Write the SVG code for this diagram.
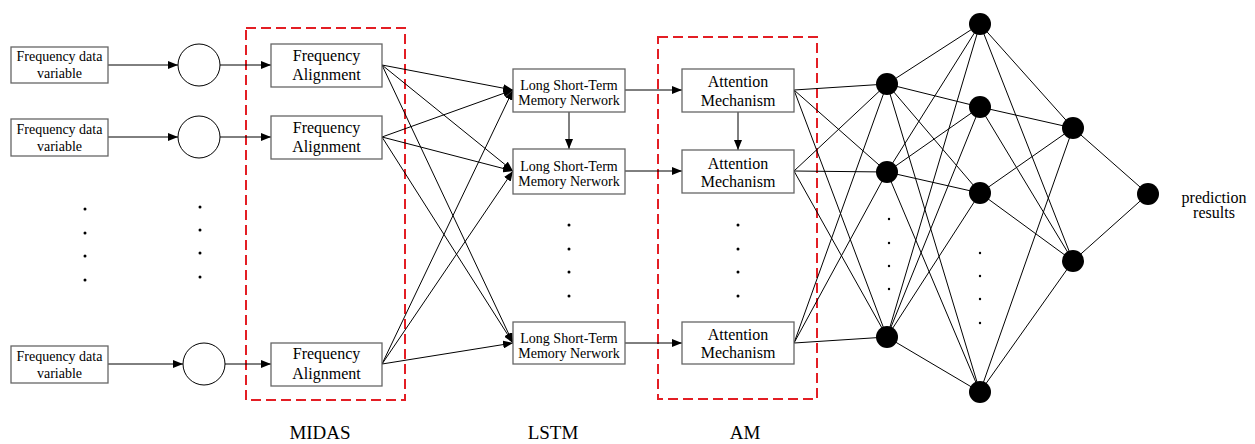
<svg xmlns="http://www.w3.org/2000/svg" width="1255" height="444" viewBox="0 0 1255 444">
<defs>
<marker id="ah" viewBox="0 0 10 8" refX="10" refY="4" markerWidth="10" markerHeight="8" markerUnits="userSpaceOnUse" orient="auto">
<path d="M0,0 L10,4 L0,8 z" fill="#000"/>
</marker>
</defs>
<style>
.box{fill:#fff;stroke:#666;stroke-width:1.3}
.t{font-family:"Liberation Serif","Times New Roman",serif;fill:#000;text-anchor:middle}
.s14{font-size:14px}
.s16{font-size:16px}
.s18{font-size:19px}
.ln{stroke:#000;stroke-width:1;fill:none}
.ar{stroke:#000;stroke-width:1;fill:none;marker-end:url(#ah)}
.red{fill:none;stroke:#e31e24;stroke-width:2;stroke-dasharray:10 5}
.nn{fill:#000}
.dot{fill:#000}
.circ{fill:#fff;stroke:#000;stroke-width:1}
</style>
<rect width="1255" height="444" fill="#fff"/>

<g id="groups">
<rect class="red" x="246" y="28" width="159" height="372"/>
<rect class="red" x="658" y="37" width="159" height="362"/>
</g>

<g id="connectors">
<line class="ar" x1="108" y1="65" x2="178" y2="65"/>
<line class="ar" x1="220" y1="65" x2="271" y2="65"/>
<line class="ar" x1="108" y1="137" x2="178" y2="137"/>
<line class="ar" x1="220" y1="137" x2="271" y2="137"/>
<line class="ar" x1="108" y1="364" x2="183" y2="364"/>
<line class="ar" x1="225" y1="364" x2="271" y2="364"/>

<line class="ar" x1="382" y1="65" x2="513" y2="90"/>
<line class="ar" x1="382" y1="65" x2="513" y2="171"/>
<line class="ar" x1="382" y1="65" x2="513" y2="343"/>
<line class="ar" x1="382" y1="137" x2="513" y2="90"/>
<line class="ar" x1="382" y1="137" x2="513" y2="171"/>
<line class="ar" x1="382" y1="137" x2="513" y2="343"/>
<line class="ar" x1="382" y1="364" x2="513" y2="90"/>
<line class="ar" x1="382" y1="364" x2="513" y2="171"/>
<line class="ar" x1="382" y1="364" x2="513" y2="343"/>

<line class="ar" x1="569" y1="112" x2="569" y2="149"/>
<line class="ar" x1="738" y1="112" x2="738" y2="150"/>

<line class="ar" x1="625" y1="90" x2="682" y2="90"/>
<line class="ar" x1="625" y1="171" x2="682" y2="171"/>
<line class="ar" x1="625" y1="343" x2="682" y2="343"/>

<line class="ln" x1="794" y1="90" x2="887" y2="84"/>
<line class="ln" x1="794" y1="90" x2="887" y2="172"/>
<line class="ln" x1="794" y1="90" x2="887" y2="337"/>
<line class="ln" x1="794" y1="171" x2="887" y2="84"/>
<line class="ln" x1="794" y1="171" x2="887" y2="172"/>
<line class="ln" x1="794" y1="171" x2="887" y2="337"/>
<line class="ln" x1="794" y1="343" x2="887" y2="84"/>
<line class="ln" x1="794" y1="343" x2="887" y2="172"/>
<line class="ln" x1="794" y1="343" x2="887" y2="337"/>

<line class="ln" x1="887" y1="84" x2="980" y2="24"/>
<line class="ln" x1="887" y1="84" x2="980" y2="107"/>
<line class="ln" x1="887" y1="84" x2="980" y2="193"/>
<line class="ln" x1="887" y1="84" x2="980" y2="392"/>
<line class="ln" x1="887" y1="172" x2="980" y2="24"/>
<line class="ln" x1="887" y1="172" x2="980" y2="107"/>
<line class="ln" x1="887" y1="172" x2="980" y2="193"/>
<line class="ln" x1="887" y1="172" x2="980" y2="392"/>
<line class="ln" x1="887" y1="337" x2="980" y2="24"/>
<line class="ln" x1="887" y1="337" x2="980" y2="107"/>
<line class="ln" x1="887" y1="337" x2="980" y2="193"/>
<line class="ln" x1="887" y1="337" x2="980" y2="392"/>

<line class="ln" x1="980" y1="24" x2="1073" y2="128"/>
<line class="ln" x1="980" y1="24" x2="1073" y2="261"/>
<line class="ln" x1="980" y1="107" x2="1073" y2="128"/>
<line class="ln" x1="980" y1="107" x2="1073" y2="261"/>
<line class="ln" x1="980" y1="193" x2="1073" y2="128"/>
<line class="ln" x1="980" y1="193" x2="1073" y2="261"/>
<line class="ln" x1="980" y1="392" x2="1073" y2="128"/>
<line class="ln" x1="980" y1="392" x2="1073" y2="261"/>

<line class="ln" x1="1073" y1="128" x2="1148" y2="194"/>
<line class="ln" x1="1073" y1="261" x2="1148" y2="194"/>
</g>

<g id="input1"><rect class="box" x="11" y="47" width="97" height="36"/><text class="t s14" x="59.5" y="61">Frequency data</text><text class="t s14" x="59.5" y="78">variable</text></g>
<g id="input2"><rect class="box" x="11" y="119" width="97" height="37"/><text class="t s14" x="59.5" y="134">Frequency data</text><text class="t s14" x="59.5" y="151">variable</text></g>
<g id="input3"><rect class="box" x="11" y="346" width="97" height="37"/><text class="t s14" x="59.5" y="361">Frequency data</text><text class="t s14" x="59.5" y="378">variable</text></g>

<g id="circle1"><circle class="circ" cx="199" cy="65" r="21"/></g>
<g id="circle2"><circle class="circ" cx="199" cy="137" r="21"/></g>
<g id="circle3"><circle class="circ" cx="204" cy="364" r="21"/></g>

<g id="fa1"><rect class="box" x="271" y="44" width="111" height="43"/><text class="t s16" x="326.5" y="61">Frequency</text><text class="t s16" x="326.5" y="80">Alignment</text></g>
<g id="fa2"><rect class="box" x="271" y="116" width="111" height="43"/><text class="t s16" x="326.5" y="133">Frequency</text><text class="t s16" x="326.5" y="152">Alignment</text></g>
<g id="fa3"><rect class="box" x="271" y="343" width="111" height="43"/><text class="t s16" x="326.5" y="359">Frequency</text><text class="t s16" x="326.5" y="379">Alignment</text></g>

<g id="lstm1"><rect class="box" x="513" y="69" width="112" height="43"/><text class="t s14" x="569" y="90">Long Short-Term</text><text class="t s14" x="569" y="105">Memory Nerwork</text></g>
<g id="lstm2"><rect class="box" x="513" y="149" width="112" height="45"/><text class="t s14" x="569" y="171">Long Short-Term</text><text class="t s14" x="569" y="186">Memory Nerwork</text></g>
<g id="lstm3"><rect class="box" x="513" y="322" width="112" height="42"/><text class="t s14" x="569" y="343">Long Short-Term</text><text class="t s14" x="569" y="358">Memory Nerwork</text></g>

<g id="am1"><rect class="box" x="682" y="69" width="112" height="43"/><text class="t s16" x="738" y="87">Attention</text><text class="t s16" x="738" y="106">Mechanism</text></g>
<g id="am2"><rect class="box" x="682" y="150" width="112" height="43"/><text class="t s16" x="738" y="169">Attention</text><text class="t s16" x="738" y="187">Mechanism</text></g>
<g id="am3"><rect class="box" x="682" y="322" width="112" height="42"/><text class="t s16" x="738" y="340">Attention</text><text class="t s16" x="738" y="358">Mechanism</text></g>

<g id="dots">
<circle class="dot" cx="85" cy="209" r="1.5"/><circle class="dot" cx="85" cy="233" r="1.5"/><circle class="dot" cx="85" cy="256" r="1.5"/><circle class="dot" cx="85" cy="280" r="1.5"/>
<circle class="dot" cx="200" cy="207" r="1.5"/><circle class="dot" cx="200" cy="230" r="1.5"/><circle class="dot" cx="200" cy="253" r="1.5"/><circle class="dot" cx="200" cy="277" r="1.5"/>
<circle class="dot" cx="569" cy="225" r="1.5"/><circle class="dot" cx="569" cy="249" r="1.5"/><circle class="dot" cx="569" cy="272" r="1.5"/><circle class="dot" cx="569" cy="296" r="1.5"/>
<circle class="dot" cx="738" cy="225" r="1.5"/><circle class="dot" cx="738" cy="249" r="1.5"/><circle class="dot" cx="738" cy="272" r="1.5"/><circle class="dot" cx="738" cy="296" r="1.5"/>
<circle class="dot" cx="889" cy="219" r="1.2"/><circle class="dot" cx="889" cy="243" r="1.2"/><circle class="dot" cx="889" cy="266" r="1.2"/><circle class="dot" cx="889" cy="289" r="1.2"/>
<circle class="dot" cx="980" cy="253" r="1.2"/><circle class="dot" cx="980" cy="276" r="1.2"/><circle class="dot" cx="980" cy="299" r="1.2"/><circle class="dot" cx="980" cy="323" r="1.2"/>
</g>

<g id="nn-layer1"><circle class="nn" cx="887" cy="84" r="11"/><circle class="nn" cx="887" cy="172" r="11"/><circle class="nn" cx="887" cy="337" r="11"/></g>
<g id="nn-layer2"><circle class="nn" cx="980" cy="24" r="11"/><circle class="nn" cx="980" cy="107" r="11"/><circle class="nn" cx="980" cy="193" r="11"/><circle class="nn" cx="980" cy="392" r="11"/></g>
<g id="nn-layer3"><circle class="nn" cx="1073" cy="128" r="11"/><circle class="nn" cx="1073" cy="261" r="11"/></g>
<g id="nn-output"><circle class="nn" cx="1148" cy="194" r="11"/></g>

<g id="labels">
<text class="t s16" x="1214" y="203">prediction</text>
<text class="t s16" x="1214" y="218">results</text>
<text class="t s18" x="320" y="439">MIDAS</text>
<text class="t s18" x="553" y="439">LSTM</text>
<text class="t s18" x="745" y="439">AM</text>
</g>
</svg>
